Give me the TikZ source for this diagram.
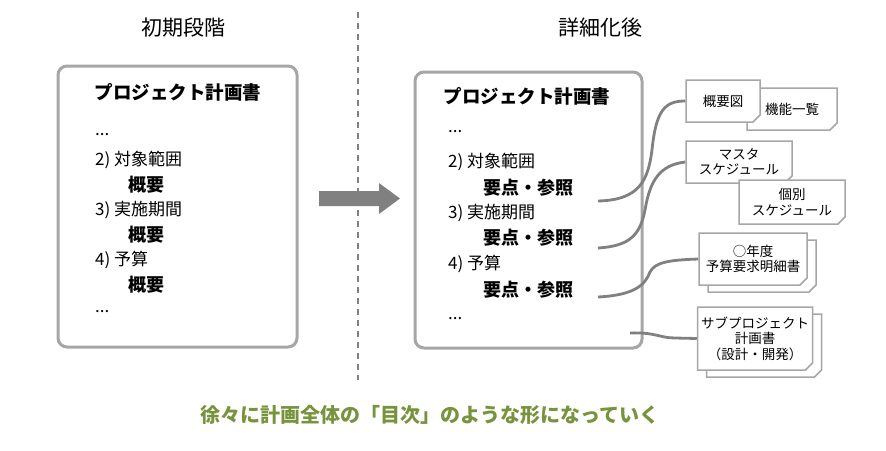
\documentclass[tikz,border=0pt]{standalone}
\usepackage{fontspec}
\setmainfont{Noto Sans CJK JP}
\usetikzlibrary{shapes.misc, shadows}
\definecolor{boxgray}{HTML}{A6A6A6}
\definecolor{linkgray}{HTML}{808080}
\definecolor{notegreen}{HTML}{77933C}
\tikzset{
  stage title/.style={
    font=\fontsize{21}{24}\selectfont,
    inner sep=0pt,
  },
  plan box/.style={
    draw=boxgray,
    line width=3pt,
    rounded corners=9pt,
    fill=white,
    inner sep=0pt,
  },
  plan title/.style={
    font=\bfseries\fontsize{18.5}{22}\selectfont,
    inner sep=0pt,
  },
  item/.style={
    anchor=west,
    font=\fontsize{17}{20}\selectfont,
    inner sep=0pt,
  },
  sub item/.style={
    anchor=west,
    font=\bfseries\fontsize{18}{21}\selectfont,
    inner sep=0pt,
  },
  doc box/.style={
    chamfered rectangle,
    chamfered rectangle corners=south east,
    chamfered rectangle xsep=3.5pt,
    chamfered rectangle ysep=3.5pt,
    draw=boxgray,
    line width=1.5pt,
    fill=white,
    align=center,
    inner sep=0pt,
    font=\fontsize{13.5}{15.5}\selectfont,
  },
  doc stack/.style={
    copy shadow={shadow xshift=9pt, shadow yshift=-7pt,
      draw=boxgray, fill=white, line width=1.5pt},
  },
  link/.style={
    draw=linkgray,
    line width=2.8pt,
  },
}

\begin{document}
\begin{tikzpicture}[x=1pt, y=-1pt]
      \useasboundingbox (0,0) rectangle (886,450);

      \node[stage title] (early) at (183,28) {初期段階};
      \node[stage title] (later) at (600,28) {詳細化後};

      \coordinate (sepTop) at (358,12);
      \coordinate (sepBot) at (358,380);
      \draw[linkgray, line width=1.3pt, dash pattern=on 6pt off 5pt] (sepTop) -- (sepBot);

      % left: first draft
      \node[plan box, minimum width=239pt, minimum height=281pt] (plan1) at (177.5,206.5) {};
      \node[plan title] (title1) at (178,92) {プロジェクト計画書};
      \node[item]     (dots1a) at (95,135)  {...};
      \node[item]     (scope1) at (95,160)  {2) 対象範囲};
      \node[sub item] (sum1a)  at (128,185) {概要};
      \node[item]     (term1)  at (95,210)  {3) 実施期間};
      \node[sub item] (sum1b)  at (128,235) {概要};
      \node[item]     (cost1)  at (95,260)  {4) 予算};
      \node[sub item] (sum1c)  at (128,285) {概要};
      \node[item]     (dots1b) at (95,312)  {...};

      \fill[linkgray] (319,191) -- (379,191) -- (379,183) -- (400,198.5)
                      -- (379,214) -- (379,206) -- (319,206) -- cycle;

      % right: detailed
      \node[plan box, minimum width=227pt, minimum height=276pt] (plan2) at (528.5,210) {};
      \node[plan title] (title2) at (527,96) {プロジェクト計画書};
      \node[item]     (dots2a) at (448,132) {...};
      \node[item]     (scope2) at (448,162) {2) 対象範囲};
      \node[sub item] (ref2a)  at (483,188) {要点・参照};
      \node[item]     (term2)  at (448,213) {3) 実施期間};
      \node[sub item] (ref2b)  at (483,238) {要点・参照};
      \node[item]     (cost2)  at (448,264) {4) 予算};
      \node[sub item] (ref2c)  at (483,290) {要点・参照};
      \node[item]     (dots2b) at (448,319) {...};

      % documents
      \node[doc box, minimum width=90pt,  minimum height=42pt] (funcs)  at (792,109) {機能一覧};
      \node[doc box, minimum width=74pt,  minimum height=42pt] (outline) at (723,101) {概要図};
      \node[doc box, minimum width=106pt, minimum height=42pt] (master) at (739,162) {マスタ\\スケジュール};
      \node[doc box, minimum width=106pt, minimum height=44pt] (each)   at (792,202) {個別\\スケジュール};
      \node[doc box, doc stack, minimum width=108pt, minimum height=52pt] (budget) at (753,259) {○年度\\予算要求明細書};
      \node[doc box, doc stack, minimum width=114pt, minimum height=63pt] (subplan) at (755,338.5) {サブプロジェクト\\計画書\\（設計・開発）};

      \coordinate (l1) at (598,201);
      \coordinate (l2) at (598,248);
      \coordinate (l3) at (598,297);
      \coordinate (l4) at (630,333);

      \draw[link] (l1) .. controls (640,200) and (648,180) .. (652,150)
                       .. controls (656,110) and (665,101) .. (outline.west);
      \draw[link] (l2) .. controls (630,246) and (640,235) .. (645,210)
                       .. controls (650,180) and (660,165) .. (master.west);
      \draw[link] (l3) .. controls (635,295) and (645,285) .. (650,272)
                       .. controls (655,262) and (670,260) .. (budget.west);
      \draw[link] (l4) .. controls (655,332) and (660,338) .. (675,338) -- (subplan.west);

      \node[font=\bfseries\fontsize{20}{24}\selectfont, text=notegreen, inner sep=0pt] (note) at (430,415)
        {徐々に計画全体の「目次」のような形になっていく};
\end{tikzpicture}
\end{document}
